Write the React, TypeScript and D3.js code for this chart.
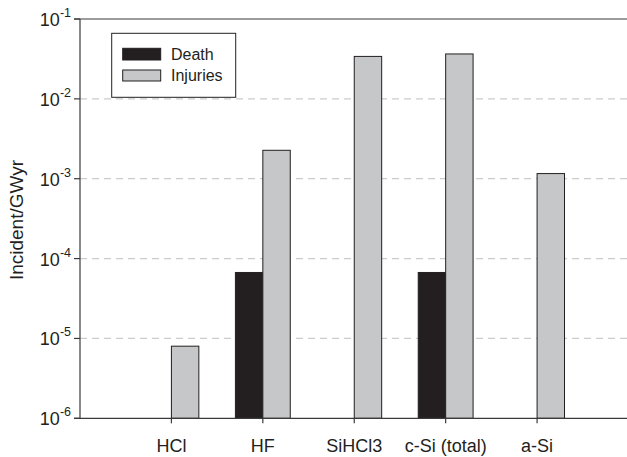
import React from "react";
import * as d3 from "d3";

const categories = ["HCl", "HF", "SiHCl3", "c-Si (total)", "a-Si"];
const deathValues: (number | null)[] = [null, 6.7e-5, null, 6.7e-5, null];
const injuryValues: (number | null)[] = [8.0e-6, 2.27e-3, 3.4e-2, 3.65e-2, 1.16e-3];
const yTickExponents = [-1, -2, -3, -4, -5, -6];
const gridExponents = [-2, -3, -4, -5];
const seriesNames = ["Death", "Injuries"];

const W = 627;
const H = 457;
const left = 80;
const top = 19;
const bottom = 418.3;
const right = 628.5;

const FONT = "'Liberation Sans', Arial, sans-serif";
const DEATH = "#231f20";
const INJ = "#c6c7c8";
const AXIS = "#3a3a3a";
const TEXT = "#231f20";

export default function App() {
  const x = d3.scalePoint<string>().domain(categories).range([left, right]).padding(1);
  const y = d3.scaleLog().domain([1e-6, 1e-1]).range([bottom, top]);
  const step = x.step();
  const bw = step * 0.3;

  return (
    <svg
      width={W}
      height={H}
      style={{ position: "absolute", left: 0, top: 0, background: "#fff" }}
      fontFamily={FONT}
    >
      {gridExponents.map((e) => (
        <line
          key={"g" + e}
          x1={left}
          x2={W}
          y1={y(Math.pow(10, e))}
          y2={y(Math.pow(10, e))}
          stroke="#cccccc"
          strokeWidth={1.3}
          strokeDasharray="7,5"
        />
      ))}
      {categories.map((c, i) => {
        const cx = x(c)!;
        const d = deathValues[i];
        const inj = injuryValues[i];
        return (
          <g key={c}>
            {d != null && (
              <rect
                x={cx - bw}
                y={y(d)}
                width={bw}
                height={bottom - y(d)}
                fill={DEATH}
                stroke={DEATH}
                strokeWidth={1}
              />
            )}
            {inj != null && (
              <rect
                x={cx}
                y={y(inj)}
                width={bw}
                height={bottom - y(inj)}
                fill={INJ}
                stroke={DEATH}
                strokeWidth={1}
              />
            )}
          </g>
        );
      })}
      <line x1={left} x2={left} y1={top} y2={bottom} stroke={AXIS} strokeWidth={1.2} />
      <line x1={left - 6} x2={W} y1={top} y2={top} stroke={AXIS} strokeWidth={1.2} />
      <line x1={left - 6} x2={W} y1={bottom} y2={bottom} stroke={AXIS} strokeWidth={1.2} />
      {yTickExponents.map((e) => {
        const yy = y(Math.pow(10, e));
        return (
          <g key={"t" + e}>
            <line x1={left - 6} x2={left} y1={yy} y2={yy} stroke={AXIS} strokeWidth={1.2} />
            <text x={71} y={yy + 7} textAnchor="end" fontSize={18} fill={TEXT}>
              10
              <tspan fontSize={12.5} dy={-9}>
                {String(e)}
              </tspan>
            </text>
          </g>
        );
      })}
      {categories.map((c) => (
        <g key={"x" + c}>
          <line x1={x(c)!} x2={x(c)!} y1={bottom} y2={bottom + 5} stroke={AXIS} strokeWidth={1.2} />
          <text x={x(c)!} y={452} textAnchor="middle" fontSize={18} fill={TEXT}>
            {c}
          </text>
        </g>
      ))}
      <text
        transform={`translate(23,220) rotate(-90)`}
        textAnchor="middle"
        fontSize={19}
        fill={TEXT}
      >
        Incident/GWyr
      </text>
      <rect x={111.7} y={33.3} width={124} height={64} fill="#fff" stroke="#222" strokeWidth={1} />
      <rect x={122.7} y={48.3} width={38} height={11.7} fill={DEATH} stroke={DEATH} strokeWidth={1} />
      <rect x={122.7} y={70} width={38} height={11} fill={INJ} stroke={DEATH} strokeWidth={1} />
      <text x={171} y={60} fontSize={16} fill={TEXT}>
        {seriesNames[0]}
      </text>
      <text x={171} y={81} fontSize={16} fill={TEXT}>
        {seriesNames[1]}
      </text>
    </svg>
  );
}
